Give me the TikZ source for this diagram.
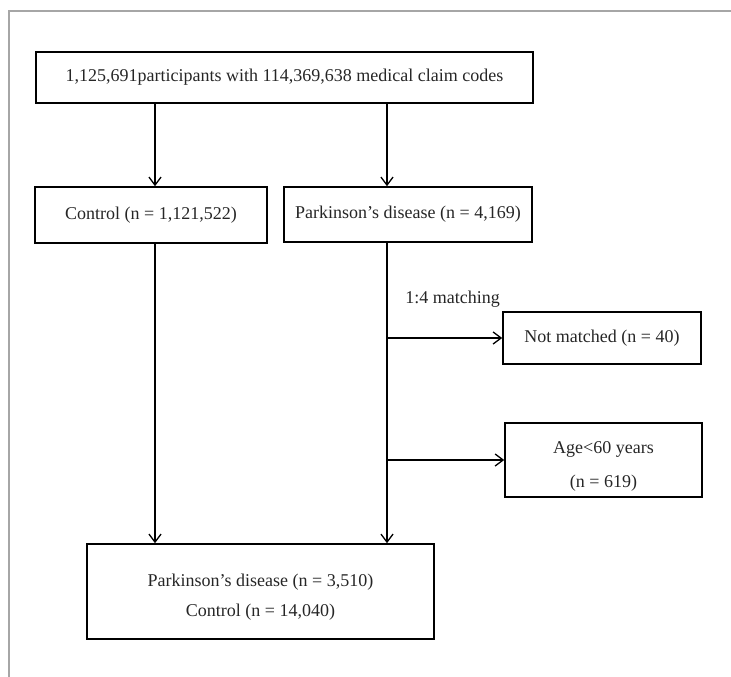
\documentclass[tikz,border=0pt]{standalone}
\usepackage{fontspec}
\setmainfont{Liberation Serif}
\usetikzlibrary{arrows.meta}
\begin{document}
\begin{tikzpicture}[x=1pt,y=-1pt,
  box/.style={draw=black, line width=1.6pt, rectangle, inner sep=0pt},
  txt/.style={font=\fontsize{18}{20}\selectfont, inner sep=0pt, text=black!85},
  arr/.style={line width=1.3pt, -{Straight Barb[length=8pt,width=12pt,line width=1.3pt]}},
  ln/.style={line width=1.3pt},
  frame/.style={draw=black!35, line width=1.5pt}]
\useasboundingbox (0,0) rectangle (731,677);
% faint frame
\coordinate (fa) at (9,677);
\coordinate (fb) at (9,11);
\coordinate (fc) at (731,11);
\draw[frame] (fa) -- (fb) -- (fc);
% boxes
\node[box, minimum width=497pt, minimum height=51pt, txt] (top) at (284.5,77.5) {1,125,691participants with 114,369,638 medical claim codes};
\node[box, minimum width=232pt, minimum height=56pt, txt] (ctrl) at (151,215) {Control (n = 1,121,522)};
\node[box, minimum width=248pt, minimum height=55pt, txt] (pd) at (408,214.5) {Parkinson’s disease (n = 4,169)};
\node[box, minimum width=198pt, minimum height=52pt, txt] (nm) at (602,338) {Not matched (n = 40)};
\node[box, minimum width=197pt, minimum height=74pt] (age) at (603.5,460) {};
\node[txt, align=center] (agetxt) at (603.5,466) {Age<60 years\\[14pt](n = 619)};
\node[box, minimum width=347pt, minimum height=95pt] (bot) at (260.5,591.5) {};
\node[txt, align=center] (bottxt) at (260.5,597) {Parkinson’s disease (n = 3,510)\\[10pt]Control (n = 14,040)};
\node[txt] (match) at (452.5,299) {1:4 matching};
% connector x positions
\coordinate (c1) at (155,0);
\coordinate (c2) at (387,0);
% connectors
\draw[arr] (top.south -| c1) -- (ctrl.north -| c1);
\draw[arr] (top.south -| c2) -- (pd.north -| c2);
\draw[arr] (ctrl.south -| c1) -- (bot.north -| c1);
\draw[arr] (pd.south -| c2) -- (bot.north -| c2);
\draw[arr] (c2 |- nm.west) -- (nm.west);
\draw[arr] (c2 |- age.west) -- (age.west);
\end{tikzpicture}
\end{document}
